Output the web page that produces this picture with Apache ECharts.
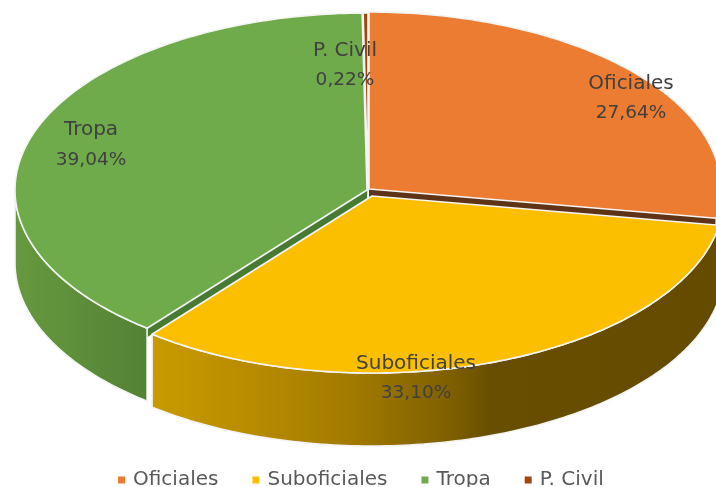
<!DOCTYPE html>
<html>
<head>
<meta charset="utf-8">
<style>
  html, body { margin: 0; padding: 0; background: #fff; }
  #chart1 { width: 716px; height: 487px; }
</style>
<script src="https://cdn.jsdelivr.net/npm/echarts@6/dist/echarts.min.js"></script>
</head>
<body>
<div id="chart1"></div>
<script>
const categorias = ['Oficiales', 'Suboficiales', 'Tropa', 'P. Civil'];
const valores = [27.64, 33.10, 39.04, 0.22];
const colores = ['#eb7c32', '#fbbf00', '#6fab4a', '#9e480e'];

// pie geometry: the ellipse of the top face, the height of the wall and
// where each exploded slice has its apex
const RX = 352, RY = 177, ALTO = 73, CORTE = 9;
const centros = [[369, 189], [372, 196], [367, 190], [368, 190]];
const coloresCorte = ['#5f3416', '#c49600', '#477a33', '#5f3416'];
const coloresLado = [
  ['#b05c25', '#b05c25'],
  null,
  null,
  ['#763609', '#763609']
];
const etiquetas = [[631, 84, 113], [416, 364, 393], [91, 130, 160], [345, 51, 80]];
const ordenDibujo = [0, 3, 2, 1];

const total = valores.reduce((a, b) => a + b, 0);
const inicios = [];
valores.reduce((acum, v, i) => {
  inicios[i] = acum;
  return acum + v;
}, 0);

const rad = v => v / total * Math.PI * 2;

const punto = (c, t, dy = 0) => [c[0] + RX * Math.sin(t), c[1] - RY * Math.cos(t) + dy];

const arco = (c, t0, t1, dy = 0) => {
  const pts = [];
  const n = Math.max(2, Math.ceil(Math.abs(t1 - t0) * 60));
  for (let k = 0; k <= n; k++) pts.push(punto(c, t0 + (t1 - t0) * k / n, dy));
  return pts;
};

const degradado = (x, x2, stops) => ({
  type: 'linear', x, y: 0, x2, y2: 0, global: true,
  colorStops: stops
});

const rellenoLado = i => {
  if (i === 1) {
    return degradado(150, 716, [
      { offset: 0, color: '#c99b00' },
      { offset: 0.18, color: '#b88b00' },
      { offset: 0.35, color: '#a37b00' },
      { offset: 0.53, color: '#7f6000' },
      { offset: 0.6, color: '#684e00' },
      { offset: 1, color: '#644b00' }
    ]);
  }
  if (i === 2) {
    return degradado(14, 148, [
      { offset: 0, color: '#66993f' },
      { offset: 1, color: '#548235' }
    ]);
  }
  return coloresLado[i][0];
};

const borde = { stroke: '#f4f4f4', lineWidth: 1.6, lineJoin: 'round' };

const dibujarPorcion = i => (params, api) => {
  const c = centros[i];
  const t0 = rad(inicios[i]);
  const t1 = t0 + rad(api.value(0));
  const hijos = [];

  // inner cut face, only what shows through the gap between slices
  hijos.push({
    type: 'polygon',
    shape: { points: [c, punto(c, i === 0 ? t1 : t0), punto(c, i === 0 ? t1 : t0, CORTE), [c[0], c[1] + CORTE]] },
    style: { fill: coloresCorte[i] }
  });

  // outer wall, only the front half of the ellipse can be seen
  const a = Math.max(t0, Math.PI / 2);
  const b = Math.min(t1, Math.PI * 1.5);
  if (b > a) {
    const arriba = arco(c, a, b);
    const abajo = arco(c, a, b, ALTO).reverse();
    hijos.push({
      type: 'polygon',
      shape: { points: arriba.concat(abajo) },
      style: Object.assign({ fill: rellenoLado(i) }, borde)
    });
  }

  // top face
  hijos.push({
    type: 'polygon',
    shape: { points: [c].concat(arco(c, t0, t1)) },
    style: Object.assign({ fill: colores[i] }, borde)
  });

  return { type: 'group', children: hijos };
};

const dibujarEtiqueta = (params, api) => {
  const i = params.dataIndex;
  const texto = (str, y, size) => ({
    type: 'text',
    style: {
      x: etiquetas[i][0], y, text: str,
      fill: '#404040',
      font: size + 'px "DejaVu Sans"',
      align: 'center', verticalAlign: 'middle'
    }
  });
  return {
    type: 'group',
    children: [
      texto(categorias[i], etiquetas[i][1], 20),
      texto(api.value(0).toFixed(2).replace('.', ',') + '%', etiquetas[i][2], 18.5)
    ]
  };
};

const chart1 = echarts.init(document.getElementById('chart1'));

const series = ordenDibujo.map(i => ({
  type: 'custom',
  name: categorias[i],
  coordinateSystem: 'none',
  silent: true,
  clip: false,
  itemStyle: { color: colores[i] },
  data: [[valores[i]]],
  renderItem: dibujarPorcion(i)
}));

series.push({
  type: 'custom',
  name: 'etiquetas',
  coordinateSystem: 'none',
  silent: true,
  z: 5,
  data: valores.map(v => [v]),
  renderItem: dibujarEtiqueta
});

chart1.setOption({
  animation: false,
  backgroundColor: '#fff',
  legend: {
    data: categorias,
    left: 113,
    top: 465,
    icon: 'rect',
    itemWidth: 7,
    itemHeight: 7,
    itemGap: 34,
    textStyle: {
      color: '#595959',
      fontFamily: 'DejaVu Sans',
      fontSize: 20,
      padding: [0, 0, 0, 3]
    }
  },
  series
});
</script>
</body>
</html>
